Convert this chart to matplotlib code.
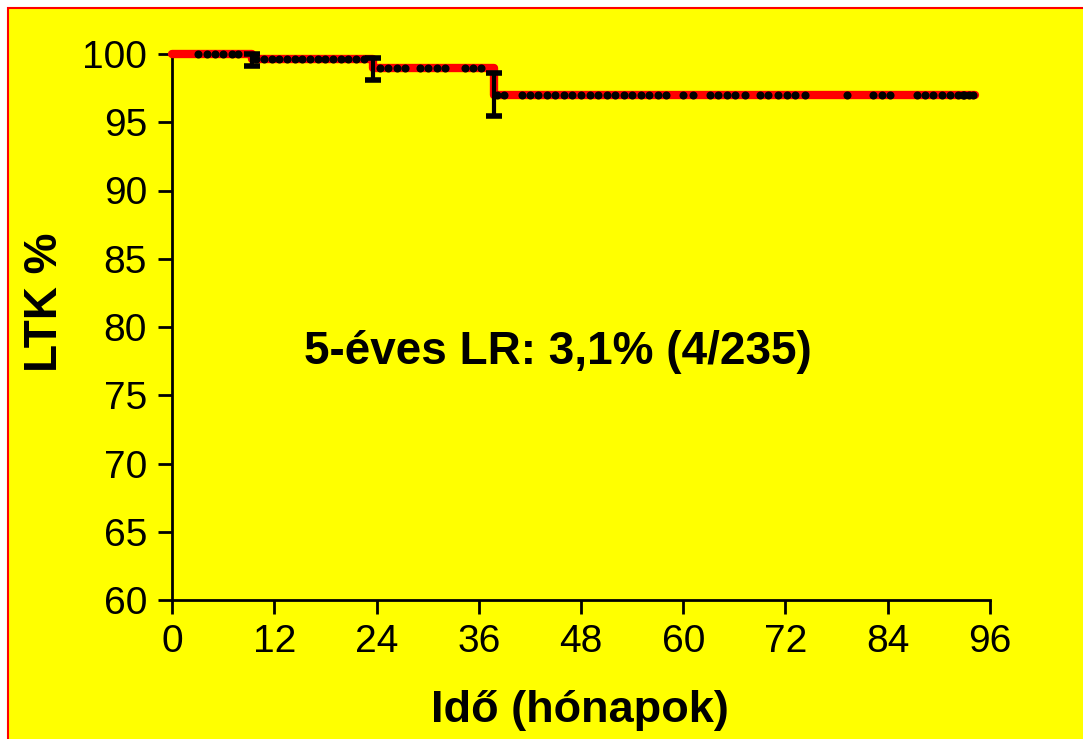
import matplotlib.pyplot as plt
from matplotlib.patches import Rectangle

plt.rcParams['font.family'] = ['Liberation Sans', 'DejaVu Sans']

# Kaplan-Meier steps (time in months, LTK %)
step_times = [0, 9.4, 23.6, 37.8, 94.2]
step_surv = [100, 99.63, 98.97, 97.0, 97.0]

# 95% CI at each event
event_times = [9.4, 23.6, 37.8]
ci_low = [99.15, 98.1, 95.45]
ci_high = [100.0, 99.68, 98.6]

# censored observations
censor_times = [3.1, 4.1, 5.0, 6.0, 7.0, 7.8,
                9.9, 10.8, 11.7, 12.6, 13.5, 14.4, 15.3, 16.2, 17.1, 18.0, 18.9, 19.8, 20.7, 21.6, 22.5,
                24.4, 25.4, 26.4, 27.3, 29.1, 30.1, 31.1, 32.0, 34.4, 35.3, 36.3,
                38.2, 39.0, 41.1, 42.0, 43.0, 44.0, 45.0, 46.0, 47.0, 48.0, 49.0, 50.0, 51.0, 52.0,
                53.0, 54.0, 55.0, 56.0, 57.0, 58.0, 60.0, 61.2, 63.1, 64.1, 65.1, 66.1, 67.3,
                69.0, 70.0, 71.1, 72.2, 73.1, 74.3, 79.2, 82.3, 83.3, 84.3,
                87.4, 88.4, 89.3, 90.4, 91.3, 92.3, 92.8, 93.0, 93.5, 94.0]
censor_surv = [100] * 6 + [99.63] * 15 + [98.97] * 11 + [97.0] * 47

fig = plt.figure(figsize=(10.83, 7.39), dpi=100)
fig.patch.set_facecolor('white')
fig.patches.append(Rectangle((7.5 / 1083, -0.1), 1.2, 1.1 - 9 / 739 + 0.002, transform=fig.transFigure,
                             facecolor='#FFFF00', edgecolor='red', linewidth=1.5, zorder=-10))

ax = fig.add_axes([172 / 1083, 1 - 600 / 739, 818 / 1083, 546 / 739])
ax.set_facecolor('none')

ax.step(step_times, step_surv, where='post', color='red', linewidth=6, clip_on=False,
        solid_joinstyle='round', solid_capstyle='round', zorder=3)
ax.plot(censor_times, censor_surv, linestyle='none', marker='o', markersize=4.8, color='black',
        clip_on=False, zorder=4)
mid = [(lo + hi) / 2 for lo, hi in zip(ci_low, ci_high)]
err = [[m - lo for m, lo in zip(mid, ci_low)], [hi - m for m, hi in zip(mid, ci_high)]]
ax.errorbar(event_times, mid, yerr=err, fmt='none', ecolor='black', elinewidth=3,
            capsize=6, capthick=4, clip_on=False, zorder=5)

ax.set_xlim(0, 96)
ax.set_ylim(60, 100)
ax.set_xticks([0, 12, 24, 36, 48, 60, 72, 84, 96])
ax.set_yticks([60, 65, 70, 75, 80, 85, 90, 95, 100])
for side in ['top', 'right']:
    ax.spines[side].set_visible(False)
for side in ['left', 'bottom']:
    ax.spines[side].set_linewidth(2)
ax.tick_params(direction='out', length=10, width=2, labelsize=28)
ax.tick_params(axis='y', pad=8)
ax.tick_params(axis='x', pad=7)

ax.set_xlabel('Idő (hónapok)', fontsize=32.5, fontweight='bold')
ax.set_ylabel('LTK %', fontsize=33, fontweight='bold')
ax.xaxis.set_label_coords(0.499, -0.2015)
ax.yaxis.set_label_coords(-0.155, 0.546)
ax.get_xaxis().label.set_va('center')
ax.get_yaxis().label.set_va('center')
ax.text(15.5, 78.2, '5-éves LR: 3,1% (4/235)', fontsize=33, fontweight='bold', va='center', ha='left')

fig.savefig('out.png', dpi=100)
